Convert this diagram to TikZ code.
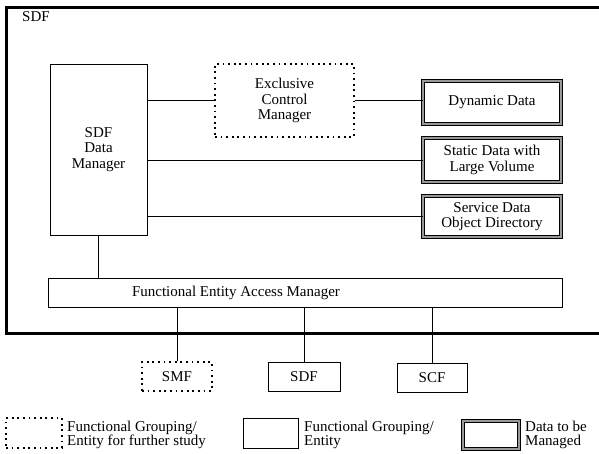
\documentclass[tikz,border=0pt]{standalone}
\usepackage{fontspec}
\setmainfont{Liberation Serif}

\begin{document}
\begin{tikzpicture}[x=1pt, y=-1pt,
	every node/.style={font=\fontsize{15}{15.5}\selectfont, align=center, inner sep=0pt},
	box/.style={draw, line width=1pt},
	dotbox/.style={draw, line width=1.8pt, dash pattern=on 1.8pt off 3.8pt},
	databox/.style={draw, line width=0.8pt, double=gray!80, double distance=2pt},
	legtext/.style={anchor=west, align=left, font=\fontsize{15}{13.5}\selectfont}]

	\useasboundingbox (0,0) rectangle (599,453);

	% outer SDF frame, open on the right
	\draw[line width=3pt] (599,7) -- (6,7) -- (6,333) -- (599,333);
	\node[anchor=west] (sdflabel) at (22,17) {SDF};

	\node[box, minimum width=97, minimum height=171] (dm) at (98.5,149.5) {SDF\\Data\\Manager};
	\node[dotbox, minimum width=139, minimum height=73] (ecm) at (284.5,100.5) {Exclusive\\Control\\Manager};

	\node[databox, minimum width=138, minimum height=43] (dd) at (492,102.5) {Dynamic Data};
	\node[databox, minimum width=138, minimum height=44] (sd) at (492,160) {Static Data with\\Large Volume};
	\node[databox, minimum width=138, minimum height=41] (sod) at (492,216.5) {Service Data\\Object Directory};

	\node[box, minimum width=514, minimum height=29] (feam) at (305,292.5) {};
	\node (feamtext) at (236,293) {Functional Entity Access Manager};

	\node[dotbox, minimum width=70, minimum height=29] (smf) at (177,376.5) {SMF};
	\node[box, minimum width=72, minimum height=29] (sdf) at (304,376.5) {SDF};
	\node[box, minimum width=70, minimum height=29] (scf) at (432,377.5) {SCF};

	\draw[line width=1pt] (ecm.west -| dm.east) -- (ecm.west);
	\draw[line width=1pt] (ecm.east) -- (ecm.east -| dd.west);
	\draw[line width=1pt] (sd.west -| dm.east) -- (sd.west);
	\draw[line width=1pt] (sod.west -| dm.east) -- (sod.west);
	\draw[line width=1pt] (dm.south) -- (dm.south |- feam.north);

	\draw[line width=1pt] (smf.north |- feam.south) -- (smf.north);
	\draw[line width=1pt] (sdf.north |- feam.south) -- (sdf.north);
	\draw[line width=1pt] (scf.north |- feam.south) -- (scf.north);

	% legend
	\node[dotbox, minimum width=56, minimum height=30] (legdot) at (34,433) {};
	\node[legtext] (legdottext) at (67,435) {Functional Grouping/\\Entity for further study};
	\node[box, minimum width=55, minimum height=30] (legbox) at (270.5,433) {};
	\node[legtext] (legboxtext) at (304,435) {Functional Grouping/\\Entity};
	\node[databox, minimum width=56, minimum height=28] (legdata) at (491,435) {};
	\node[legtext] (legdatatext) at (525,435) {Data to be\\Managed};

\end{tikzpicture}
\end{document}
